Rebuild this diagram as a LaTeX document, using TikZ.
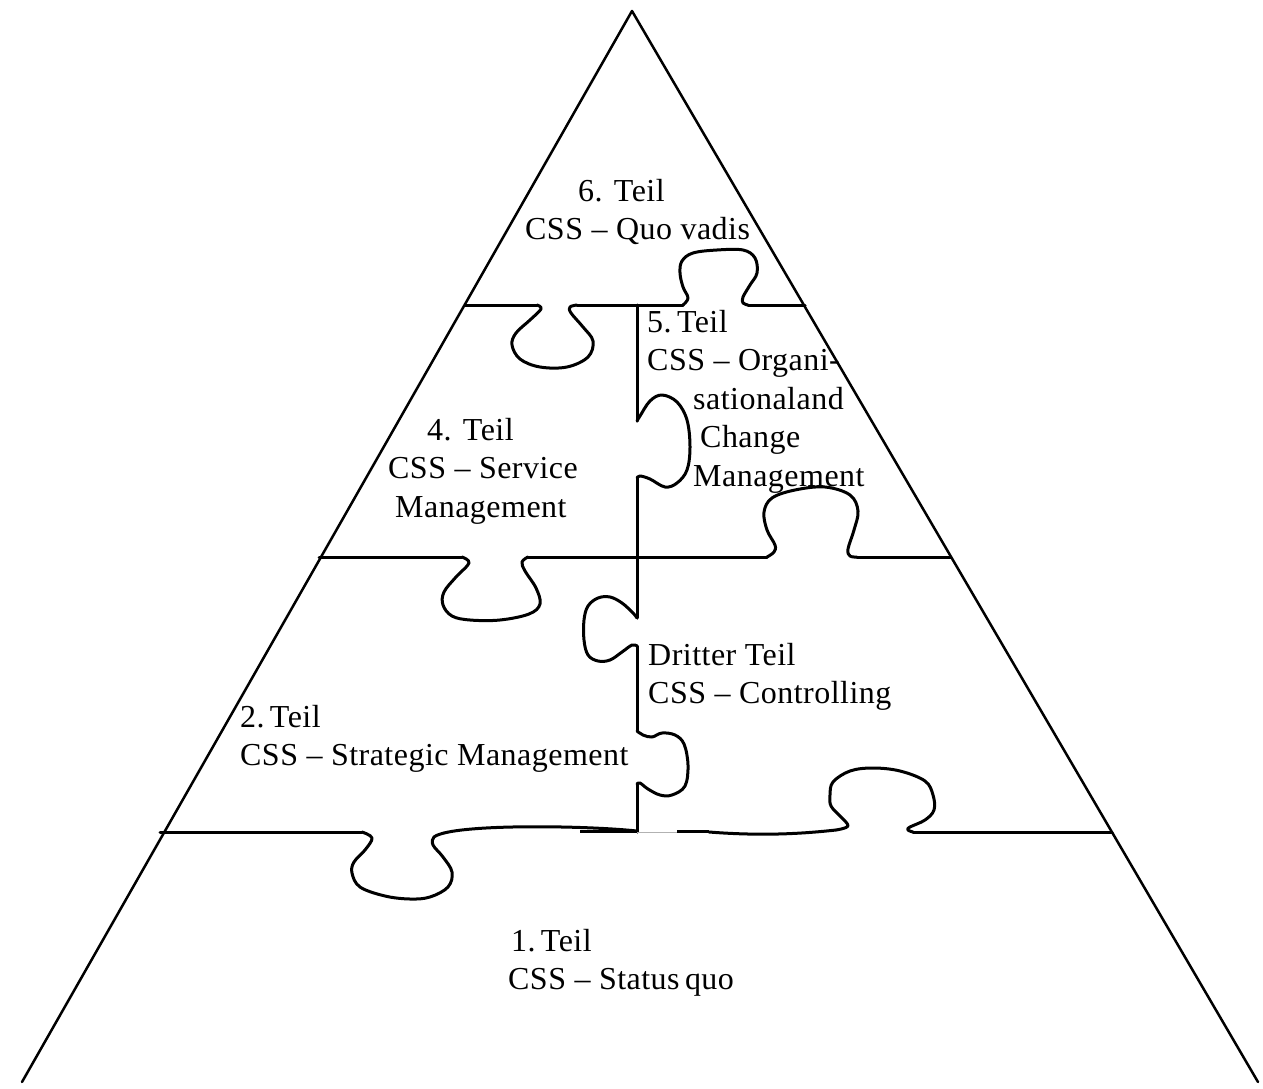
\documentclass[tikz,border=0pt]{standalone}
\usepackage{fontspec}
\setmainfont[LetterSpace=1.5]{Liberation Serif}
\begin{document}
\begin{tikzpicture}[x=1pt,y=-1pt,
  edge/.style={line width=2.5pt, line cap=round, line join=round},
  seam/.style={line width=3pt, line cap=round, line join=round},
  tab/.style={seam, smooth, tension=0.6},
  label/.style={inner sep=0pt, anchor=base west, align=left,
    font=\fontsize{32}{38.5}\selectfont}]
\useasboundingbox[fill=white] (0,0) rectangle (1263,1089);

% pyramid outline
\draw[edge] (22,1082) -- (632,11) -- (1258,1082);

% seam between the top level and the fourth/fifth parts
\draw[seam] (465,305) -- (537,305);
\draw[tab] plot coordinates {(537,305) (541,309) (530,320) (516,333) (512,345) (520,359) (540,367) (567,367) (588,357) (593,341) (583,327) (571,313) (570,307) (577,305)};
\draw[seam] (577,305) -- (683,305);
\draw[tab] plot coordinates {(683,305) (688,298) (683,287) (680,273) (682,261) (693,253) (717,250) (743,250) (755,258) (757,273) (750,285) (743,297) (743,303) (748,305)};
\draw[seam] (748,305) -- (805,305);

% seam between the fourth and fifth parts
\draw[seam] (637,305) -- (637,421);
\draw[tab] plot coordinates {(637,421) (640,416) (650,401) (662,395) (677,402) (687,420) (690,447) (687,470) (677,483) (665,487) (650,479) (640,476) (637,478)};
\draw[seam] (637,478) -- (637,557);

% seam below the fourth and fifth parts
\draw[seam] (319,557) -- (462,557);
\draw[tab] plot coordinates {(462,557) (469,563) (456,577) (444,592) (443,605) (452,616) (470,620) (500,620) (529,614) (540,604) (536,588) (525,571) (522,562) (528,557)};
\draw[seam] (528,557) -- (767,557);
\draw[tab] plot coordinates {(767,557) (774,552) (775,545) (767,530) (764,512) (772,498) (795,490) (825,487) (850,495) (858,511) (854,530) (848,549) (850,556) (857,557)};
\draw[seam] (857,557) -- (951,557);

% seam between the second and third parts
\draw[seam] (637,557) -- (637,618);
\draw[tab] plot coordinates {(637,618) (633,613) (622,603) (610,597) (598,598) (588,606) (584,620) (584,640) (588,655) (598,661) (610,660) (622,652) (632,645) (637,646)};
\draw[seam] (637,646) -- (637,731);
\draw[tab] plot coordinates {(637,731) (643,735) (652,737) (662,733) (675,735) (684,744) (688,765) (685,786) (672,795) (660,795) (648,789) (640,783) (637,784)};
\draw[seam] (637,784) -- (637,832);

% seam above the first part
\draw[seam] (160,832) -- (362,832);
\draw[tab] plot coordinates {(362,832) (372,838) (365,850) (354,862) (352,873) (360,887) (385,896) (410,899) (430,897) (448,887) (452,872) (443,857) (433,845) (434,837) (444,833)};
\draw[seam] (444,833) .. controls (480,824) and (590,826) .. (637,831);
\draw[line width=1pt, gray!60] (580,832) -- (677,832);
\draw[seam, line cap=butt] (580,831) -- (637,831);
\draw[seam, line cap=butt] (677,831) -- (709,831);
\draw[seam] (709,832) .. controls (760,836) and (800,834) .. (836,830);
\draw[tab] plot coordinates {(836,830) (848,826) (840,816) (831,806) (830,795) (833,782) (850,771) (873,768) (900,771) (925,781) (933,795) (934,810) (925,820) (910,827) (908,830) (913,832)};
\draw[seam] (913,832) -- (1112,832);

% part labels (each anchored at the baseline of its last line)
\node[label] (six) at (525,239.5) {\hspace*{53pt}6. Teil\\CSS -- Quo vadis};
\node[label] (five) at (647,486) {5.\,Teil\\CSS -- Organi-\\\hspace*{46pt}sationaland\\\hspace*{53pt}Change\\\hspace*{46pt}Management};
\node[label] (four) at (388,517) {\hspace*{39pt}4. Teil\\CSS -- Service\\\hspace*{7pt}Management};
\node[label] (three) at (648,703.5) {Dritter Teil\\CSS -- Controlling};
\node[label] (two) at (240,765.5) {2.\,Teil\\CSS -- Strategic Management};
\node[label] (one) at (508,989.5) {\hspace*{3pt}1.\,Teil\\CSS -- Status\,quo};
\end{tikzpicture}
\end{document}
